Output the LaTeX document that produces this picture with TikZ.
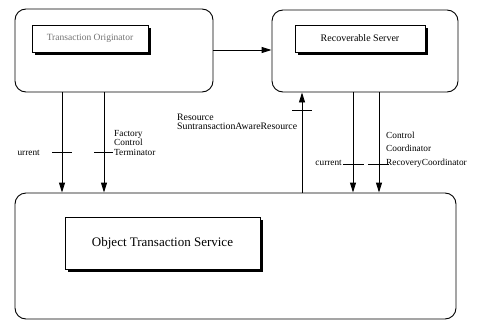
\documentclass[tikz,border=0pt]{standalone}
\usepackage{fontspec}
\setmainfont{Liberation Serif}
\usetikzlibrary{arrows.meta,calc}
\begin{document}
\begin{tikzpicture}[x=1pt,y=-1pt,
  outer/.style={draw,line width=0.9pt,rounded corners=11pt,inner sep=0pt},
  inner/.style={draw,line width=0.6pt,fill=white,inner sep=0pt},
  arr/.style={line width=0.9pt,-{Triangle[length=10pt,width=6pt]}},
  lbl/.style={inner sep=0pt,font=\fontsize{9.3}{9.3}\selectfont,align=left},
  tickline/.style={line width=0.9pt}]
\useasboundingbox (0,0) rectangle (478,321);
% outer boxes
\node[outer,minimum width=198pt,minimum height=83pt] (orig) at (114,50.5) {};
\node[outer,minimum width=186pt,minimum height=82pt] (serv) at (365,51) {};
\node[outer,minimum width=441pt,minimum height=126pt] (ots) at (235.5,256) {};
% inner boxes with shadows
\fill (35,28) rectangle (151,55);
\node[inner,minimum width=116pt,minimum height=27pt,text=black!55,font=\fontsize{9.5}{10}\selectfont] (tob) at (90,38.5) {Transaction Originator};
\fill (298,28) rectangle (428,55);
\node[inner,minimum width=130pt,minimum height=27pt,font=\fontsize{10}{10}\selectfont] (rsb) at (360,38.5) {Recoverable Server};
\fill (68,220) rectangle (263,272);
\node[inner,minimum width=195pt,minimum height=52pt,font=\fontsize{13}{13}\selectfont] (otsb) at (162.5,243) {Object Transaction Service};
% x positions
\coordinate (xa) at (62,0);
\coordinate (xb) at (104,0);
\coordinate (xc) at (302,0);
\coordinate (xd) at (353,0);
\coordinate (xe) at (379,0);
% connectors
\draw[arr] (orig.east |- 0,50) -- (serv.west |- 0,50);
\draw[arr] (orig.south -| xa) -- (ots.north -| xa) coordinate[pos=0.6] (ta);
\draw[arr] (orig.south -| xb) -- (ots.north -| xb) coordinate[pos=0.6] (tb);
\draw[arr] (ots.north -| xc) -- (serv.south -| xc) coordinate[pos=0.82] (tc);
\draw[arr] (serv.south -| xd) -- (ots.north -| xd) coordinate[pos=0.72] (td);
\draw[arr] (serv.south -| xe) -- (ots.north -| xe) coordinate[pos=0.72] (te);
% ticks
\draw[tickline] ([xshift=-10pt]ta) -- ([xshift=10pt]ta);
\draw[tickline] ([xshift=-10pt]tb) -- ([xshift=9pt]tb);
\draw[tickline] ([xshift=-10pt]tc) -- ([xshift=10pt]tc);
\draw[tickline] ([xshift=-10pt]td) -- ([xshift=11pt]td);
\draw[tickline] ([xshift=-11pt]te) -- ([xshift=10pt]te);
% labels
\node[lbl,anchor=base east] (l1) at (40,155) {urrent};
\node[lbl,anchor=base west] (l2) at (114,136) {Factory};
\node[lbl,anchor=base west] (l3) at (114,145.5) {Control};
\node[lbl,anchor=base west] (l4) at (114,155) {Terminator};
\node[lbl,anchor=base west,font=\fontsize{9.8}{9.8}\selectfont] (l5) at (177,120) {Resource};
\node[lbl,anchor=base west,font=\fontsize{9.8}{9.8}\selectfont] (l6) at (177,129.5) {SuntransactionAwareResource};
\node[lbl,anchor=base east] (l7) at (342,165) {current};
\node[lbl,anchor=base west] (l8) at (386,138) {Control};
\node[lbl,anchor=base west] (l9) at (386,151) {Coordinator};
\node[lbl,anchor=base west] (l10) at (386,165) {RecoveryCoordinator};
\end{tikzpicture}
\end{document}
